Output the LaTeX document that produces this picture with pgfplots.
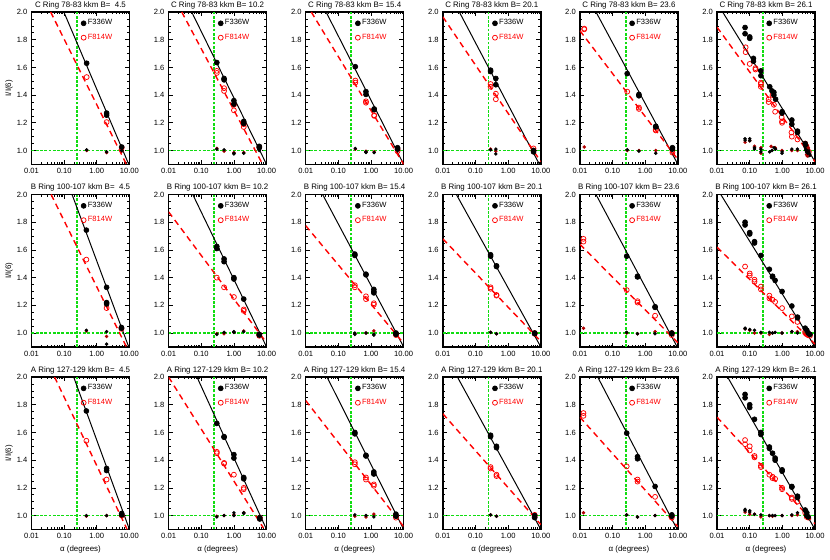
\documentclass[border=0pt]{standalone}
\usepackage{fontspec}
\setmainfont{Liberation Sans}
\usepackage{pgfplots}
\pgfplotsset{compat=1.18}
\definecolor{lgreen}{HTML}{11DD11}
\definecolor{dred}{HTML}{B00000}
\newcommand{\ft}{\fontsize{4.6}{5.5}\selectfont}
\pgfplotsset{
  blk/.style={only marks, mark=*, mark size=1.5pt, black},
  opn/.style={only marks, mark=o, mark size=1.5pt, red, mark options={line width=0.45pt}},
  bdot/.style={only marks, mark=*, mark size=0.85pt, black},
  rdot/.style={only marks, mark=*, mark size=0.85pt, dred},
  bfit/.style={black, line width=0.6pt},
  rfit/.style={red, line width=0.85pt, dash pattern=on 3.6pt off 2.6pt},
  grn/.style={lgreen, line width=1.15pt, dash pattern=on 1.7pt off 0.9pt},
}
% #1 x offset, #2 y offset, #3 extra options
\newcommand{\panel}[3]{%
\begin{axis}[
    anchor=south west, at={(#1,#2)},
    scale only axis, width=59.4pt, height=92.4pt,
    xmode=log, xmin=0.01, xmax=10, ymin=0.9, ymax=2.0,
    xtick={0.01,0.1,1,10}, xticklabels={0.01,0.10,1.00,10.00},
    ytick={1,1.2,1.4,1.6,1.8,2}, yticklabels={1.0,1.2,1.4,1.6,1.8,2.0},
    minor y tick num=3,
    tick label style={font=\ft},
    xticklabel style={yshift=1pt},
    yticklabel style={xshift=1pt},
    major tick length=2.6pt, minor tick length=1.4pt,
    tick style={black, line width=0.4pt},
    axis line style={line width=0.9pt},
    every axis title shift=0.6pt,
    title style={font=\fontsize{4.8}{5.5}\selectfont, inner sep=1pt},
    label style={font=\fontsize{4.8}{5.5}\selectfont},
    xlabel style={yshift=2.5pt}, ylabel style={yshift=-4.5pt},
    legend style={at={(0.5,0.962)}, anchor=north west, draw=none, fill=none,
      font=\ft, row sep=2.4pt, inner sep=0pt, nodes={inner sep=0.8pt}},
    legend cell align=left,
    #3]
  \addlegendimage{legend image code/.code={\fill[black] (0.08cm,0cm) circle (1.5pt);}}
  \addlegendentry{F336W}
  \addlegendimage{legend image code/.code={\draw[red, line width=0.45pt] (0.08cm,0cm) circle (1.5pt);}}
  \addlegendentry[text=red]{F814W}
  \addplot[grn] coordinates {(0.25,0.9) (0.25,2.0)};
  \addplot[grn] coordinates {(0.01,1.0) (10,1.0)};
}
\begin{document}
\begin{tikzpicture}
% ---------------- C ring ----------------
\panel{0pt}{0pt}{ylabel={I/I(6)}, title={C Ring 78-83 kkm B=\ \ 4.5}}
\addplot[bfit] coordinates {(0.098,2.0) (9.55,0.9)};
\addplot[rfit] coordinates {(0.0386,2.0) (8.1,0.9)};
\addplot[opn] coordinates {(0.49,1.53) (2.0,1.205) (5.8,1.02)};
\addplot[blk] coordinates {(0.49,1.63) (2.0,1.27) (2.0,1.255) (5.8,1.025)};
\addplot[rdot] coordinates {(0.49,1.0) (2.0,0.985) (5.8,0.995)};
\addplot[bdot] coordinates {(0.49,1.005) (2.0,0.99) (5.8,1.0)};
\end{axis}

\panel{83.16pt}{0pt}{title={C Ring 78-83 kkm B= 10.2}}
\addplot[bfit] coordinates {(0.051,2.0) (10,0.9)};
\addplot[rfit] coordinates {(0.0253,2.0) (7.6,0.9)};
\addplot[opn] coordinates {(0.3,1.575) (0.3,1.56) (0.5,1.45) (0.5,1.43) (1.0,1.33) (1.0,1.29) (2.0,1.19) (2.0,1.17) (6.0,1.025)};
\addplot[blk] coordinates {(0.3,1.635) (0.5,1.52) (0.5,1.51) (1.0,1.36) (1.0,1.335) (2.0,1.21) (2.0,1.195) (6.0,1.03) (6.0,1.02)};
\addplot[rdot] coordinates {(0.3,1.015) (0.5,0.995) (1.0,0.985) (2.0,0.985)};
\addplot[bdot] coordinates {(0.3,1.01) (0.5,1.005) (1.0,0.98) (1.0,0.975) (2.0,0.98) (6.0,1.0)};
\end{axis}

\panel{166.32pt}{0pt}{title={C Ring 78-83 kkm B= 15.4}}
\addplot[bfit] coordinates {(0.042,2.0) (10,0.9)};
\addplot[rfit] coordinates {(0.0148,2.0) (10,0.9)};
\addplot[opn] coordinates {(0.33,1.505) (0.33,1.49) (0.7,1.355) (0.7,1.345) (1.25,1.255) (1.25,1.25) (6.5,1.01) (6.5,0.995)};
\addplot[blk] coordinates {(0.33,1.605) (0.7,1.425) (0.7,1.405) (1.25,1.30) (1.25,1.295) (6.5,1.02) (6.5,1.01)};
\addplot[rdot] coordinates {(0.33,1.01) (0.7,0.995) (1.25,0.99)};
\addplot[bdot] coordinates {(0.33,1.015) (0.7,0.985) (0.7,0.99) (1.25,0.985)};
\end{axis}

\panel{249.48pt}{0pt}{title={C Ring 78-83 kkm B= 20.1}}
\addplot[bfit] coordinates {(0.032,2.0) (9.1,0.9)};
\addplot[rfit] coordinates {(0.01,1.965) (10,0.92)};
\addplot[opn] coordinates {(0.29,1.48) (0.29,1.46) (0.42,1.41) (0.42,1.37) (6.0,1.015) (6.0,1.0)};
\addplot[blk] coordinates {(0.29,1.58) (0.29,1.57) (0.42,1.52) (0.42,1.475) (6.0,1.0) (6.0,0.99)};
\addplot[rdot] coordinates {(0.29,1.01) (0.42,0.995)};
\addplot[bdot] coordinates {(0.29,1.005) (0.42,1.01) (0.42,0.975)};
\end{axis}

\panel{332.64pt}{0pt}{title={C Ring 78-83 kkm B= 23.6}}
\addplot[bfit] coordinates {(0.031,2.0) (10,0.9)};
\addplot[rfit] coordinates {(0.01,1.865) (10,0.935)};
\addplot[opn] coordinates {(0.0135,1.88) (0.0135,1.875) (0.28,1.425) (0.64,1.31) (0.64,1.30) (2.1,1.15) (2.1,1.145) (6.8,1.0) (6.8,0.985)};
\addplot[blk] coordinates {(0.28,1.555) (0.64,1.405) (0.64,1.395) (2.1,1.175) (2.1,1.17) (6.8,1.02) (6.8,1.01)};
\addplot[rdot] coordinates {(0.0135,1.025) (0.28,1.0) (0.64,1.0) (2.1,1.0)};
\addplot[bdot] coordinates {(0.28,1.005) (0.64,0.995) (2.1,0.98)};
\end{axis}

\panel{415.8pt}{0pt}{title={C Ring 78-83 kkm B= 26.1}}
\addplot[bfit] coordinates {(0.0148,2.0) (10,0.92)};
\addplot[rfit] coordinates {(0.01,1.89) (10,0.92)};
\addplot[opn] coordinates {(0.075,1.745) (0.075,1.71) (0.10,1.625) (0.15,1.595) (0.15,1.585) (0.22,1.49) (0.22,1.48) (0.22,1.46) (0.38,1.37) (0.38,1.35) (0.5,1.40) (0.55,1.33) (0.6,1.28) (0.95,1.24) (0.98,1.21) (0.98,1.20) (1.9,1.13) (1.95,1.10) (2.9,1.08) (5.0,1.05) (5.5,1.03) (6.0,1.0) (6.5,0.99)};
\addplot[blk] coordinates {(0.072,1.888) (0.072,1.843) (0.10,1.82) (0.10,1.81) (0.13,1.665) (0.13,1.645) (0.22,1.575) (0.22,1.54) (0.41,1.46) (0.48,1.43) (0.55,1.42) (0.55,1.40) (0.62,1.37) (0.98,1.28) (0.98,1.27) (1.95,1.22) (1.95,1.19) (2.9,1.14) (2.9,1.13) (5.0,1.05) (5.3,1.03) (5.6,1.01) (6.0,0.99) (6.4,0.97)};
\addplot[rdot] coordinates {(0.072,1.06) (0.10,1.07) (0.14,1.03) (0.22,1.02) (0.22,0.98) (0.45,1.03) (0.6,1.02) (0.98,1.0) (1.95,1.0) (2.9,1.0) (5.5,0.97) (5.8,0.96) (6.2,1.02)};
\addplot[bdot] coordinates {(0.072,1.085) (0.072,1.075) (0.10,1.085) (0.10,1.07) (0.14,1.02) (0.14,1.01) (0.22,1.01) (0.22,0.99) (0.41,0.99) (0.48,1.0) (0.55,1.02) (0.62,1.01) (0.98,0.98) (0.98,0.99) (1.95,1.01) (2.9,1.01) (5.3,1.0) (6.0,0.98)};
\end{axis}

% ---------------- B ring ----------------
\panel{0pt}{-110.7pt}{ylabel={I/I(6)}, title={B Ring 100-107 kkm B=\ \ 4.5}}
\addplot[bfit] coordinates {(0.175,2.0) (9.5,0.9)};
\addplot[rfit] coordinates {(0.040,2.0) (8.1,0.9)};
\addplot[opn] coordinates {(0.48,1.53) (2.0,1.18) (5.7,1.03)};
\addplot[blk] coordinates {(0.48,1.743) (2.0,1.33) (2.0,1.22) (2.0,1.21) (5.7,1.04) (5.7,1.035)};
\addplot[rdot] coordinates {(0.48,1.015) (2.0,0.975)};
\addplot[bdot] coordinates {(0.48,1.02) (2.0,1.01) (2.0,0.92)};
\end{axis}

\panel{83.16pt}{-110.7pt}{title={B Ring 100-107 kkm B= 10.2}}
\addplot[bfit] coordinates {(0.055,2.0) (10,0.9)};
\addplot[rfit] coordinates {(0.01,1.875) (10,0.93)};
\addplot[opn] coordinates {(0.3,1.40) (0.5,1.33) (1.0,1.26) (2.0,1.17) (2.0,1.16) (6.0,0.99) (6.0,0.98)};
\addplot[blk] coordinates {(0.3,1.625) (0.3,1.61) (0.5,1.535) (0.5,1.515) (1.0,1.40) (1.0,1.39) (2.0,1.245) (6.0,0.99) (6.0,0.985)};
\addplot[rdot] coordinates {(0.3,0.995) (0.5,0.995) (1.0,1.005) (2.0,1.015)};
\addplot[bdot] coordinates {(0.3,0.99) (0.5,1.005) (1.0,1.01) (1.0,1.005) (2.0,1.01)};
\end{axis}

\panel{166.32pt}{-110.7pt}{title={B Ring 100-107 kkm B= 15.4}}
\addplot[bfit] coordinates {(0.033,2.0) (10,0.9)};
\addplot[rfit] coordinates {(0.01,1.775) (10,0.925)};
\addplot[opn] coordinates {(0.32,1.345) (0.32,1.33) (0.7,1.265) (0.7,1.245) (1.22,1.215) (1.22,1.205) (5.8,0.995) (5.8,0.985)};
\addplot[blk] coordinates {(0.32,1.57) (0.32,1.56) (0.7,1.425) (0.7,1.42) (1.22,1.315) (1.22,1.30) (1.22,1.29) (5.8,1.0) (5.8,0.99)};
\addplot[rdot] coordinates {(0.32,0.995) (0.7,1.0) (1.22,1.015)};
\addplot[bdot] coordinates {(0.32,1.0) (0.32,0.99) (0.7,1.0) (1.22,0.99) (1.22,0.985)};
\end{axis}

\panel{249.48pt}{-110.7pt}{title={B Ring 100-107 kkm B= 20.1}}
\addplot[bfit] coordinates {(0.026,2.0) (10,0.9)};
\addplot[rfit] coordinates {(0.01,1.68) (10,0.94)};
\addplot[opn] coordinates {(0.29,1.33) (0.29,1.32) (0.44,1.275) (0.44,1.27) (6.5,1.0) (6.5,0.995)};
\addplot[blk] coordinates {(0.29,1.565) (0.29,1.555) (0.44,1.485) (0.44,1.48) (6.5,1.0) (6.5,0.995)};
\addplot[rdot] coordinates {(0.29,1.005) (0.44,0.995)};
\addplot[bdot] coordinates {(0.29,1.005) (0.44,0.995)};
\end{axis}

\panel{332.64pt}{-110.7pt}{title={B Ring 100-107 kkm B= 23.6}}
\addplot[bfit] coordinates {(0.031,2.0) (9.5,0.9)};
\addplot[rfit] coordinates {(0.01,1.64) (10,0.93)};
\addplot[opn] coordinates {(0.0128,1.68) (0.0128,1.66) (0.27,1.31) (0.58,1.23) (0.58,1.22) (2.0,1.125) (6.5,1.0) (6.5,0.985)};
\addplot[blk] coordinates {(0.27,1.555) (0.58,1.41) (0.58,1.405) (2.0,1.19) (2.0,1.185) (6.5,1.0) (6.5,0.995)};
\addplot[rdot] coordinates {(0.0128,1.035) (0.27,1.0) (0.58,0.995) (2.0,1.01)};
\addplot[bdot] coordinates {(0.27,1.005) (0.58,0.995) (2.0,0.995)};
\end{axis}

\panel{415.8pt}{-110.7pt}{title={B Ring 100-107 kkm B= 26.1}}
\addplot[bfit] coordinates {(0.013,2.0) (10,0.9)};
\addplot[rfit] coordinates {(0.01,1.62) (10,0.92)};
\addplot[opn] coordinates {(0.072,1.48) (0.10,1.43) (0.10,1.415) (0.14,1.385) (0.14,1.37) (0.22,1.335) (0.22,1.315) (0.40,1.27) (0.40,1.25) (0.5,1.24) (0.6,1.225) (0.98,1.18) (1.95,1.12) (2.9,1.08) (5.0,1.01) (5.0,1.0) (5.6,0.995) (5.6,0.99) (6.2,0.985) (7.0,0.98)};
\addplot[blk] coordinates {(0.072,1.80) (0.072,1.78) (0.10,1.725) (0.10,1.715) (0.14,1.66) (0.14,1.65) (0.22,1.56) (0.40,1.46) (0.50,1.41) (0.50,1.405) (0.60,1.38) (0.98,1.30) (1.95,1.195) (2.9,1.115) (2.9,1.11) (5.0,1.035) (5.6,1.02) (6.2,1.0) (7.0,0.99)};
\addplot[rdot] coordinates {(0.072,1.03) (0.10,1.02) (0.14,1.0) (0.22,1.0) (0.4,0.99) (0.5,1.0) (0.98,1.0) (1.95,1.01) (2.9,1.01)};
\addplot[bdot] coordinates {(0.072,1.035) (0.072,1.03) (0.10,1.025) (0.14,1.02) (0.22,1.005) (0.4,1.005) (0.5,1.0) (0.6,1.005) (0.98,1.0) (1.95,1.01) (2.9,1.0)};
\end{axis}

% ---------------- A ring ----------------
\panel{0pt}{-221.4pt}{ylabel={I/I(6)}, xlabel={α (degrees)}, title={A Ring 127-129 kkm B=\ \ 4.5}}
\addplot[bfit] coordinates {(0.196,2.0) (10,0.9)};
\addplot[rfit] coordinates {(0.051,2.0) (8.5,0.9)};
\addplot[opn] coordinates {(0.48,1.54) (2.0,1.26) (5.8,1.0)};
\addplot[blk] coordinates {(0.48,1.755) (2.0,1.34) (2.0,1.325) (5.8,1.015) (5.8,1.005)};
\addplot[rdot] coordinates {(0.48,0.995) (2.0,1.0)};
\addplot[bdot] coordinates {(0.48,1.0) (2.0,1.0) (5.8,1.0)};
\end{axis}

\panel{83.16pt}{-221.4pt}{xlabel={α (degrees)}, title={A Ring 127-129 kkm B= 10.2}}
\addplot[bfit] coordinates {(0.074,2.0) (10,0.9)};
\addplot[rfit] coordinates {(0.01,2.0) (8,0.91)};
\addplot[opn] coordinates {(0.3,1.46) (0.3,1.45) (0.5,1.38) (0.5,1.375) (1.0,1.295) (2.0,1.20) (2.0,1.19) (6.2,0.985) (6.2,0.98)};
\addplot[blk] coordinates {(0.3,1.665) (0.5,1.57) (0.5,1.565) (1.0,1.44) (1.0,1.415) (2.0,1.275) (2.0,1.265) (6.2,0.985) (6.2,0.975)};
\addplot[rdot] coordinates {(0.3,0.995) (0.5,1.0) (1.0,1.005) (2.0,1.02)};
\addplot[bdot] coordinates {(0.3,0.99) (0.5,1.0) (1.0,1.02) (1.0,1.0) (2.0,1.02) (2.0,1.015)};
\end{axis}

\panel{166.32pt}{-221.4pt}{xlabel={α (degrees)}, title={A Ring 127-129 kkm B= 15.4}}
\addplot[bfit] coordinates {(0.045,2.0) (10,0.9)};
\addplot[rfit] coordinates {(0.01,1.83) (10,0.92)};
\addplot[opn] coordinates {(0.32,1.385) (0.32,1.37) (0.7,1.275) (0.7,1.26) (1.22,1.225) (1.22,1.215) (5.8,1.0) (5.8,0.985)};
\addplot[blk] coordinates {(0.32,1.60) (0.32,1.59) (0.7,1.435) (0.7,1.43) (1.22,1.315) (1.22,1.30) (5.8,1.01) (5.8,0.995)};
\addplot[rdot] coordinates {(0.32,0.995) (0.7,0.99) (1.22,1.01)};
\addplot[bdot] coordinates {(0.32,1.005) (0.7,1.0) (1.22,0.99)};
\end{axis}

\panel{249.48pt}{-221.4pt}{xlabel={α (degrees)}, title={A Ring 127-129 kkm B= 20.1}}
\addplot[bfit] coordinates {(0.028,2.0) (10,0.9)};
\addplot[rfit] coordinates {(0.01,1.735) (10,0.935)};
\addplot[opn] coordinates {(0.29,1.35) (0.29,1.34) (0.44,1.295) (0.44,1.285) (6.5,1.005) (6.5,0.99)};
\addplot[blk] coordinates {(0.29,1.58) (0.29,1.57) (0.44,1.50) (0.44,1.49) (6.5,1.0) (6.5,0.985)};
\addplot[rdot] coordinates {(0.29,1.005) (0.44,0.995)};
\addplot[bdot] coordinates {(0.29,1.005) (0.44,0.995)};
\end{axis}

\panel{332.64pt}{-221.4pt}{xlabel={α (degrees)}, title={A Ring 127-129 kkm B= 23.6}}
\addplot[bfit] coordinates {(0.035,2.0) (9.5,0.9)};
\addplot[rfit] coordinates {(0.01,1.71) (10,0.92)};
\addplot[opn] coordinates {(0.0128,1.74) (0.0128,1.72) (0.27,1.355) (0.58,1.26) (0.58,1.245) (2.0,1.135) (6.5,1.0) (6.5,0.985)};
\addplot[blk] coordinates {(0.27,1.595) (0.58,1.425) (0.58,1.41) (2.0,1.21) (6.5,1.005) (6.5,0.995)};
\addplot[rdot] coordinates {(0.0128,1.02) (0.27,1.005) (0.58,0.99) (2.0,1.0)};
\addplot[bdot] coordinates {(0.27,1.005) (0.58,0.99) (2.0,1.0)};
\end{axis}

\panel{415.8pt}{-221.4pt}{xlabel={α (degrees)}, title={A Ring 127-129 kkm B= 26.1}}
\addplot[bfit] coordinates {(0.021,2.0) (10,0.9)};
\addplot[rfit] coordinates {(0.01,1.71) (10,0.94)};
\addplot[opn] coordinates {(0.072,1.545) (0.072,1.515) (0.10,1.50) (0.10,1.47) (0.14,1.43) (0.14,1.42) (0.22,1.36) (0.22,1.35) (0.40,1.295) (0.5,1.28) (0.5,1.27) (0.6,1.265) (0.98,1.20) (0.98,1.19) (1.95,1.13) (1.95,1.12) (2.9,1.10) (5.0,1.02) (5.6,1.0) (5.6,0.99) (6.2,0.985)};
\addplot[blk] coordinates {(0.072,1.875) (0.072,1.85) (0.10,1.80) (0.10,1.78) (0.14,1.695) (0.22,1.60) (0.22,1.585) (0.40,1.495) (0.40,1.485) (0.5,1.45) (0.6,1.415) (0.6,1.40) (0.98,1.33) (0.98,1.32) (1.95,1.21) (1.95,1.205) (2.9,1.14) (2.9,1.13) (5.0,1.04) (5.6,1.02) (5.6,1.0) (6.2,0.99)};
\addplot[rdot] coordinates {(0.072,1.025) (0.10,1.01) (0.14,1.01) (0.22,0.99) (0.4,1.0) (0.5,0.995) (0.98,1.0) (1.95,1.0) (2.9,1.005)};
\addplot[bdot] coordinates {(0.072,1.045) (0.072,1.035) (0.10,1.035) (0.10,1.025) (0.14,1.01) (0.22,1.005) (0.4,1.0) (0.5,1.0) (0.6,1.0) (0.98,1.0) (1.95,1.005) (2.9,1.02)};
\end{axis}
\end{tikzpicture}
\end{document}
